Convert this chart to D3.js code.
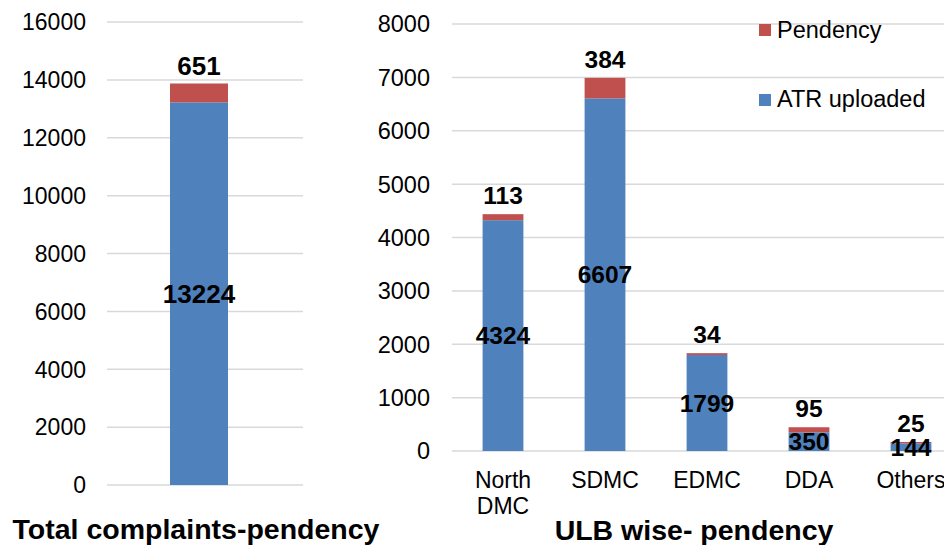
<!DOCTYPE html>
<html><head><meta charset="utf-8">
<script src="https://cdn.jsdelivr.net/npm/d3@7"></script>
<style>
html,body{margin:0;padding:0;background:#fff;}
text{font-family:"Liberation Sans",Arial,sans-serif;}
</style></head>
<body><svg id="c" width="944" height="545"></svg>
<script>
// ---- data ----
const totalCategories = ["Total"];
const totalATR = [13224];
const totalPendency = [651];
const totalTicks = [0,2000,4000,6000,8000,10000,12000,14000,16000];

const ulbCategories = ["North DMC","SDMC","EDMC","DDA","Others"];
const ulbATR = [4324,6607,1799,350,144];
const ulbPendency = [113,384,34,95,25];
const ulbTicks = [0,1000,2000,3000,4000,5000,6000,7000,8000];

const seriesNames = ["Pendency","ATR uploaded"];
const titles = ["Total complaints-pendency","ULB wise- pendency"];

const BLUE="#4F81BD", RED="#C0504D", GRID="#D9D9D9";
const svg = d3.select("#c");

function panel(opts){
  const {cats, atr, pend, ticks, x, y, tickFont, lblFont, gridX0, gridX1, tickRight} = opts;
  const g = svg.append("g");
  // gridlines
  g.selectAll(".grid").data(ticks).join("line")
    .attr("x1",gridX0).attr("x2",gridX1)
    .attr("y1",d=>y(d)).attr("y2",d=>y(d))
    .attr("stroke",GRID).attr("stroke-width",1.5);
  // tick labels
  g.selectAll(".tl").data(ticks).join("text")
    .attr("x",tickRight).attr("y",d=>y(d)).attr("dy","0.36em")
    .attr("text-anchor","end").attr("font-size",tickFont).attr("fill","#000")
    .text(d=>d);
  // stacked bars
  const rows = cats.map((c,i)=>({c, a:atr[i], p:pend[i]}));
  g.selectAll(".ba").data(rows).join("rect")
    .attr("x",d=>x(d.c)).attr("width",x.bandwidth())
    .attr("y",d=>y(d.a)).attr("height",d=>y(0)-y(d.a)).attr("fill",BLUE);
  g.selectAll(".bp").data(rows).join("rect")
    .attr("x",d=>x(d.c)).attr("width",x.bandwidth())
    .attr("y",d=>y(d.a+d.p)).attr("height",d=>y(d.a)-y(d.a+d.p)).attr("fill",RED);
  return {g, rows};
}

// ---- left panel ----
const xL = d3.scaleBand().domain(totalCategories).range([107,303]).paddingInner(0.6).paddingOuter(0.476).align(0.4565);
const yL = d3.scaleLinear().domain([0,16000]).range([485,22]);
const L = panel({cats:totalCategories, atr:totalATR, pend:totalPendency, ticks:totalTicks, x:xL, y:yL,
  tickFont:"23px", gridX0:107, gridX1:303, tickRight:86});
L.g.selectAll(".la").data(L.rows).join("text")
  .attr("x",d=>xL(d.c)+xL.bandwidth()/2).attr("y",d=>yL(d.a/2)).attr("dy","0.36em")
  .attr("text-anchor","middle").attr("font-size","26px").attr("font-weight","bold").text(d=>d.a);
L.g.selectAll(".lp").data(L.rows).join("text")
  .attr("x",d=>xL(d.c)+xL.bandwidth()/2).attr("y",d=>yL(d.a+d.p)-8)
  .attr("text-anchor","middle").attr("font-size","26px").attr("font-weight","bold").text(d=>d.p);

// ---- right panel ----
const xR = d3.scaleBand().domain(ulbCategories).range([452,962]).paddingInner(0.6).paddingOuter(0.3);
const yR = d3.scaleLinear().domain([0,8000]).range([451,24]);
const R = panel({cats:ulbCategories, atr:ulbATR, pend:ulbPendency, ticks:ulbTicks, x:xR, y:yR,
  tickFont:"23.5px", gridX0:452, gridX1:962, tickRight:430});

// legend background (hides gridlines behind it)
svg.append("rect").attr("x",737).attr("y",0).attr("width",207).attr("height",150).attr("fill","#fff");

// re-draw bars' labels after
R.g.raise();
svg.selectAll("rect").filter(function(){return d3.select(this).attr("fill")==="#fff";}).raise();
// bars must not be hidden: legend bg only covers grid region right of SDMC where no bar is tall there
R.g.selectAll(".ra").data(R.rows).join("text")
  .attr("x",d=>xR(d.c)+xR.bandwidth()/2).attr("y",d=>yR(d.a/2)).attr("dy","0.36em")
  .attr("text-anchor","middle").attr("font-size","24.5px").attr("font-weight","bold").text(d=>d.a);
R.g.selectAll(".rp").data(R.rows).join("text")
  .attr("x",d=>xR(d.c)+xR.bandwidth()/2).attr("y",d=>yR(d.a+d.p)-10)
  .attr("text-anchor","middle").attr("font-size","24.5px").attr("font-weight","bold").text(d=>d.p);
R.g.raise();

// category labels (wrap)
R.g.selectAll(".cl").data(ulbCategories).join("text")
  .attr("x",d=>xR(d)+xR.bandwidth()/2).attr("y",488)
  .attr("text-anchor","middle").attr("font-size","23px")
  .each(function(d){
    const words = d.split(" ");
    const t = d3.select(this);
    words.forEach((w,i)=>t.append("tspan").attr("x",xR(d)+xR.bandwidth()/2).attr("dy",i?26:0).text(w));
  });

// legend
const colors = [RED, BLUE];
const lg = svg.append("g");
lg.selectAll("rect").data(seriesNames).join("rect")
  .attr("x",759).attr("y",(d,i)=>24+i*70).attr("width",12).attr("height",12).attr("fill",(d,i)=>colors[i]);
lg.selectAll("text").data(seriesNames).join("text")
  .attr("x",777).attr("y",(d,i)=>38+i*69).attr("font-size","23.5px").text(d=>d);

// titles
svg.append("text").attr("x",196).attr("y",539).attr("text-anchor","middle")
  .attr("font-size","28.5px").attr("font-weight","bold").text(titles[0]);
svg.append("text").attr("x",694).attr("y",540).attr("text-anchor","middle")
  .attr("font-size","28.5px").attr("font-weight","bold").text(titles[1]);
</script></body></html>
